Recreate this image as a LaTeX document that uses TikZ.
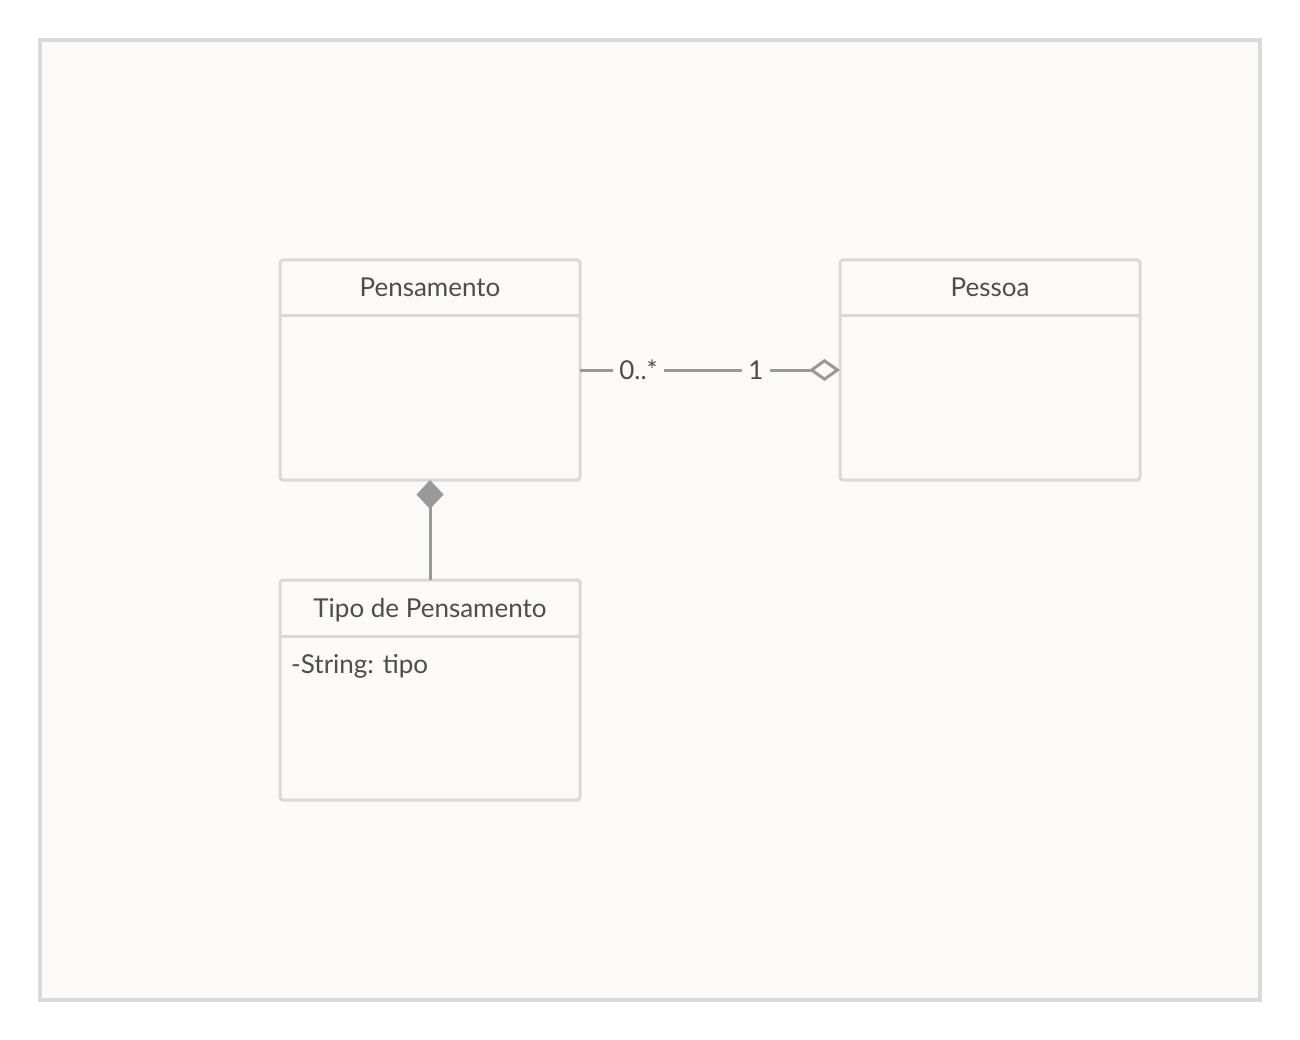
\documentclass[tikz,border=0pt]{standalone}
\usepackage{fontspec}
\setmainfont{Lato}
\usetikzlibrary{arrows.meta, positioning, calc}
\definecolor{framegray}{HTML}{D9D9D9}
\definecolor{paper}{HTML}{FBFAF9}
\definecolor{linegray}{HTML}{999999}
\definecolor{textgray}{HTML}{4D4D4D}

\begin{document}
\begin{tikzpicture}[x=1pt, y=-1pt,
    classbox/.style={draw=framegray, line width=3pt, fill=paper, rounded corners=3pt,
                     minimum width=300pt, minimum height=220pt, inner sep=0pt, outer sep=0pt},
    classname/.style={text=textgray, font=\fontsize{26}{31}\selectfont, anchor=base, inner sep=0pt},
    attrtext/.style={text=textgray, font=\fontsize{26}{31}\selectfont, anchor=base west, inner sep=0pt},
    divider/.style={draw=framegray, line width=3pt},
    relline/.style={draw=linegray, line width=3pt},
    mult/.style={fill=paper, text=textgray, font=\fontsize{26}{31}\selectfont, inner xsep=6pt, inner ysep=2pt}]

    % white page and diagram frame
    \useasboundingbox[fill=white] (0,0) rectangle (1300,1040);
    \node[draw=framegray, fill=paper, line width=3.5pt, minimum width=1220pt, minimum height=960pt,
          outer sep=0pt] (frame) at (650,520) {};

    % classes
    \node[classbox] (pens) at (430,370) {};
    \node[classbox] (pess) at (990,370) {};
    \node[classbox] (tipo) at (430,690) {};

    \node[classname] (pensname) at ($(pens.north)+(0,37)$) {Pensamento};
    \node[classname] (pessname) at ($(pess.north)+(0,37)$) {Pessoa};
    \node[classname] (tiponame) at ($(tipo.north)+(0,37)$) {Tipo de Pensamento};

    \draw[divider] ($(pens.north west)+(0,56)$) -- ($(pens.north east)+(0,56)$);
    \draw[divider] ($(pess.north west)+(0,56)$) -- ($(pess.north east)+(0,56)$);
    \draw[divider] ($(tipo.north west)+(0,56)$) -- ($(tipo.north east)+(0,56)$);

    \node[attrtext] (tipoattr) at ($(tipo.north west)+(11,93)$) {-String: tipo};

    % aggregation
    \draw[relline, -{Diamond[open, length=31pt, width=22pt]}] (pens.east) -- (pess.west)
        node[mult, pos=0.225] (manymult) {0..*}
        node[mult, pos=0.677] (onemult) {1};

    % composition
    \draw[relline, -{Diamond[length=29pt, width=27pt]}] (tipo.north) -- (pens.south);
\end{tikzpicture}
\end{document}
